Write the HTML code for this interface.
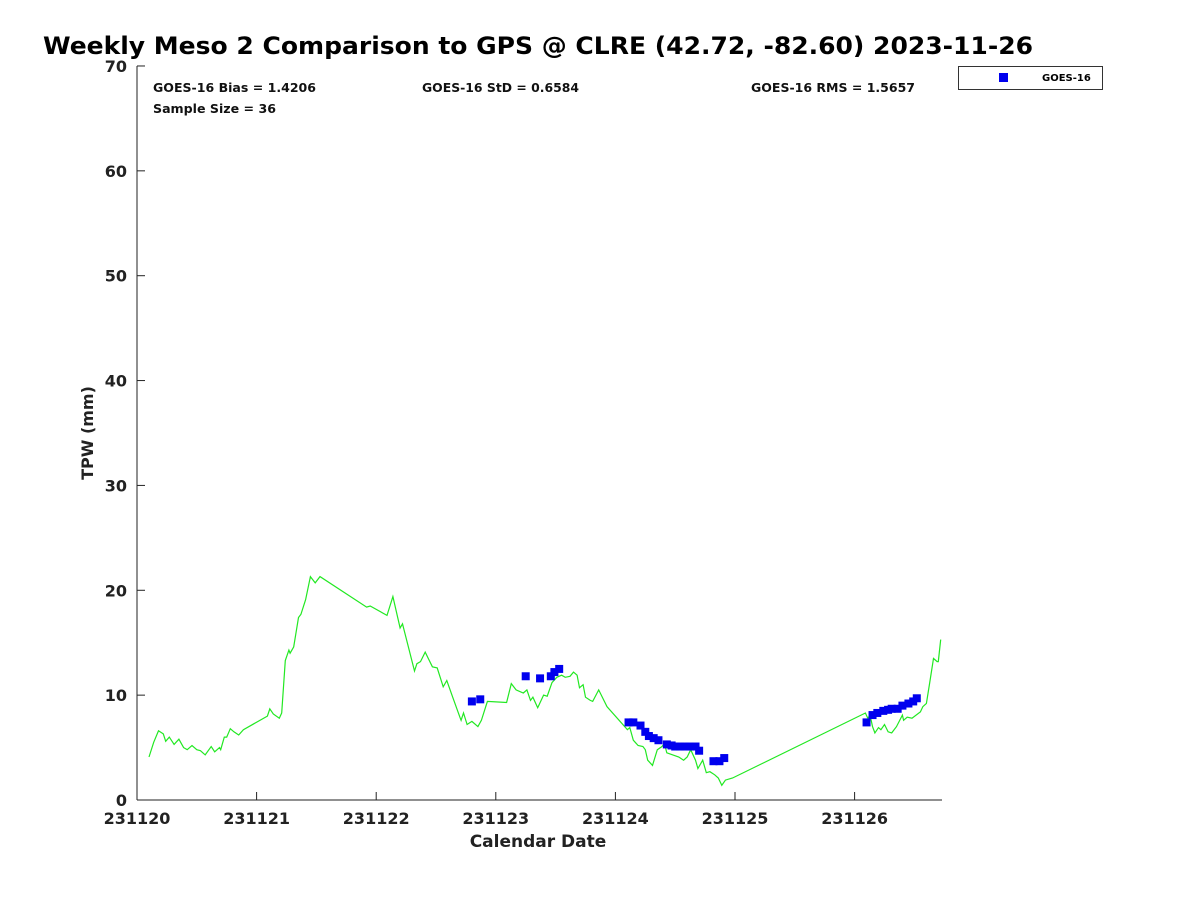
<!DOCTYPE html>
<html><head><meta charset="utf-8"><style>
body{margin:0;background:#fff;}
svg{font-family:"DejaVu Sans","Liberation Sans",sans-serif;}
</style></head><body>
<svg id="chart" width="1200" height="900" viewBox="0 0 1200 900">
<text x="43" y="54" font-size="24" font-weight="bold" textLength="990" lengthAdjust="spacingAndGlyphs">Weekly Meso 2 Comparison to GPS @ CLRE (42.72, -82.60) 2023-11-26</text>
<g font-size="12" font-weight="bold" fill="#111">
<text x="153" y="92" textLength="163" lengthAdjust="spacingAndGlyphs">GOES-16 Bias = 1.4206</text>
<text x="422" y="92" textLength="157" lengthAdjust="spacingAndGlyphs">GOES-16 StD = 0.6584</text>
<text x="751" y="92" textLength="164" lengthAdjust="spacingAndGlyphs">GOES-16 RMS = 1.5657</text>
<text x="153" y="113" textLength="123" lengthAdjust="spacingAndGlyphs">Sample Size = 36</text>
</g>
<g id="yticks"></g>
<g id="xticks"></g>
<line x1="137" y1="66" x2="137" y2="800" stroke="#222"/>
<line x1="137" y1="800" x2="942" y2="800" stroke="#222"/>
<text transform="translate(93,433) rotate(-90)" text-anchor="middle" font-size="16" font-weight="bold" fill="#222">TPW (mm)</text>
<text x="538" y="847" text-anchor="middle" font-size="17" font-weight="bold" fill="#222">Calendar Date</text>
<polyline id="gps" fill="none" stroke="#22e822" stroke-width="1.2"/>
<g id="pts"></g>
<g>
<rect x="958.5" y="66.5" width="144" height="23" fill="#fff" stroke="#333"/>
<rect x="999" y="73" width="9" height="9" fill="#0000ee"/>
<text x="1042" y="81" font-size="10" font-weight="bold">GOES-16</text>
</g>
</svg>
<script>
const yTicks=[0,10,20,30,40,50,60,70];
const xTickLabels=["231120","231121","231122","231123","231124","231125","231126"];
const gpsDay=[0.10,0.14,0.18,0.22,0.24,0.27,0.31,0.35,0.39,0.42,0.46,0.50,0.53,0.57,0.62,0.65,0.69,0.70,0.73,0.75,0.78,0.81,0.85,0.89,1.09,1.11,1.14,1.19,1.21,1.24,1.27,1.28,1.31,1.35,1.37,1.41,1.45,1.49,1.53,1.92,1.95,2.09,2.14,2.20,2.22,2.32,2.34,2.37,2.41,2.44,2.47,2.51,2.56,2.59,2.64,2.70,2.71,2.73,2.76,2.80,2.85,2.88,2.93,3.09,3.13,3.17,3.23,3.26,3.29,3.31,3.35,3.40,3.43,3.47,3.51,3.55,3.58,3.62,3.65,3.68,3.70,3.73,3.75,3.79,3.81,3.86,3.93,4.10,4.12,4.15,4.19,4.23,4.25,4.27,4.31,4.35,4.39,4.41,4.43,4.48,4.53,4.57,4.60,4.63,4.67,4.69,4.73,4.76,4.79,4.83,4.86,4.89,4.92,4.98,6.09,6.11,6.13,6.15,6.17,6.20,6.22,6.25,6.28,6.31,6.35,6.40,6.41,6.44,6.48,6.55,6.57,6.60,6.63,6.66,6.69,6.70,6.72];
const gpsTpw=[4.1,5.5,6.6,6.3,5.6,6.0,5.3,5.8,5.0,4.8,5.2,4.8,4.7,4.3,5.1,4.6,5.0,4.8,6.0,6.0,6.8,6.5,6.2,6.7,8.0,8.7,8.2,7.8,8.3,13.3,14.3,14.0,14.6,17.4,17.7,19.1,21.3,20.7,21.3,18.4,18.5,17.6,19.4,16.4,16.8,12.3,13.0,13.2,14.1,13.4,12.7,12.6,10.8,11.4,9.8,7.9,7.6,8.3,7.2,7.5,7.0,7.6,9.4,9.3,11.1,10.5,10.2,10.5,9.5,9.8,8.8,10.0,9.9,11.2,11.7,11.9,11.7,11.8,12.2,11.9,10.7,11.0,9.8,9.5,9.4,10.5,8.9,6.7,6.9,5.7,5.2,5.1,4.8,3.8,3.3,4.8,5.1,5.4,4.5,4.3,4.1,3.8,4.1,4.8,3.8,3.0,3.8,2.6,2.7,2.4,2.1,1.4,1.9,2.1,8.3,7.8,8.1,7.0,6.4,6.9,6.7,7.2,6.5,6.4,7.0,8.1,7.6,7.9,7.8,8.4,8.9,9.2,11.3,13.5,13.2,13.2,15.3];
const goesDay=[2.80,2.87,3.25,3.37,3.46,3.49,3.53,4.11,4.15,4.21,4.25,4.28,4.32,4.36,4.43,4.47,4.50,4.54,4.58,4.62,4.67,4.70,4.82,4.87,4.91,6.10,6.15,6.19,6.24,6.28,6.31,6.36,6.40,6.45,6.49,6.52];
const goesTpw=[9.4,9.6,11.8,11.6,11.8,12.2,12.5,7.4,7.4,7.1,6.5,6.1,5.9,5.7,5.3,5.2,5.1,5.1,5.1,5.1,5.1,4.7,3.7,3.7,4.0,7.4,8.1,8.3,8.5,8.6,8.7,8.7,9.0,9.2,9.4,9.7];
const X0=137,DAYW=119.6,Y0=800,MMH=10.486;
const xs=d=>X0+d*DAYW, ys=v=>Y0-v*MMH;
const NS="http://www.w3.org/2000/svg";
const yg=document.getElementById('yticks');
yTicks.forEach(v=>{
 const l=document.createElementNS(NS,'line');
 l.setAttribute('x1',X0);l.setAttribute('x2',X0+8);l.setAttribute('y1',ys(v));l.setAttribute('y2',ys(v));l.setAttribute('stroke','#222');
 
 
 yg.appendChild(l);
 const t=document.createElementNS(NS,'text');
 t.setAttribute('x',X0-10);t.setAttribute('y',ys(v)+6);t.setAttribute('text-anchor','end');t.setAttribute('font-size','16');t.setAttribute('font-weight','bold');t.setAttribute('fill','#222');
 t.textContent=v;
 
 
 yg.appendChild(t);
});
const xg=document.getElementById('xticks');
xTickLabels.forEach((s,i)=>{
 const l=document.createElementNS(NS,'line');
 l.setAttribute('x1',xs(i));l.setAttribute('x2',xs(i));l.setAttribute('y1',Y0);l.setAttribute('y2',Y0-8);l.setAttribute('stroke','#222');
 
 
 xg.appendChild(l);
 const t=document.createElementNS(NS,'text');
 t.setAttribute('x',xs(i));t.setAttribute('y',Y0+24);t.setAttribute('text-anchor','middle');t.setAttribute('font-size','16');t.setAttribute('font-weight','bold');t.setAttribute('fill','#222');
 t.textContent=s;
 
 
 xg.appendChild(t);
});
document.getElementById('gps').setAttribute('points',gpsDay.map((d,i)=>xs(d).toFixed(1)+','+ys(gpsTpw[i]).toFixed(1)).join(' '));
const pg=document.getElementById('pts');
goesDay.forEach((d,i)=>{
 const r=document.createElementNS(NS,'rect');
 r.setAttribute('x',xs(d)-4);r.setAttribute('y',ys(goesTpw[i])-4);r.setAttribute('width',8);r.setAttribute('height',8);r.setAttribute('fill','#0000ee');
 
 
 pg.appendChild(r);
});
</script>
</body></html>
